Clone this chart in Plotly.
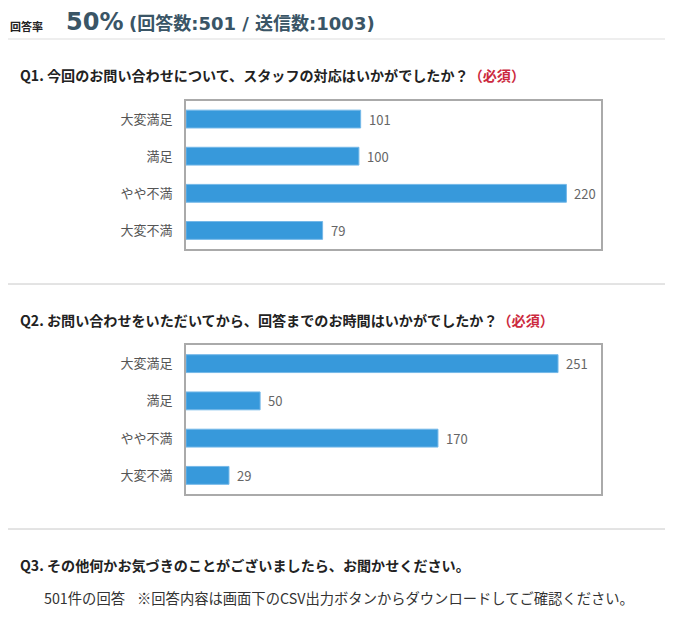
import plotly.graph_objects as go

# page body margin in the browser is 8px; figure is sized to fit the window
M = 8
W, H = 673 - M, 631 - M

categories = ["大変満足", "満足", "やや不満", "大変不満"]
q1_values = [101, 100, 220, 79]
q2_values = [251, 50, 170, 29]
q1_xmax = 240
q2_xmax = 280

header_label = "回答率"
rate_text = "50%"
count_text = "(回答数:501 / 送信数:1003)"
q1_title = "Q1. 今回のお問い合わせについて、スタッフの対応はいかがでしたか？"
q2_title = "Q2. お問い合わせをいただいてから、回答までのお時間はいかがでしたか？"
required_text = "（必須）"
q3_title = "Q3. その他何かお気づきのことがございましたら、お聞かせください。"
q3_count = "501件の回答"
q3_note = "※回答内容は画面下のCSV出力ボタンからダウンロードしてご確認ください。"

FONT = "Noto Sans CJK JP"
WIDE = "DejaVu Sans, Noto Sans CJK JP"
BAR = "#3799db"
BAR_EDGE = "#74b8e8"


def px(x):
    return (x - M) / W


def py(y):
    return 1 - (y - M) / H


fig = go.Figure()

for vals, ax in [(q1_values, ""), (q2_values, "2")]:
    fig.add_trace(go.Bar(
        x=vals, y=categories, orientation="h",
        marker=dict(color=BAR, line=dict(color=BAR_EDGE, width=1)),
        width=0.48, hoverinfo="skip",
        xaxis="x" + ax, yaxis="y" + ax, showlegend=False,
    ))

annotations = []
for vals, xa, ya in [(q1_values, "x", "y"), (q2_values, "x2", "y2")]:
    for c, v in zip(categories, vals):
        annotations.append(dict(
            x=v, y=c, xref=xa, yref=ya, text=str(v), showarrow=False,
            xanchor="left", yanchor="middle", xshift=6,
            font=dict(family=FONT, size=13, color="#666666"),
        ))

axis_common = dict(
    showline=True, mirror=True, linecolor="#aaaaaa", linewidth=2,
    showgrid=False, zeroline=False, fixedrange=True,
)
ytick = dict(family=FONT, size=13, color="#555555")

fig.update_layout(
    width=W, height=H,
    margin=dict(l=0, r=0, t=0, b=0),
    paper_bgcolor="white", plot_bgcolor="white",
    xaxis=dict(domain=[px(186), px(601)], range=[0, q1_xmax], anchor="y",
               showticklabels=False, **axis_common),
    yaxis=dict(domain=[py(249), py(100.5)], anchor="x",
               categoryorder="array", categoryarray=categories,
               range=[3.5, -0.5], ticklabelstandoff=9, tickfont=ytick,
               **axis_common),
    xaxis2=dict(domain=[px(186), px(601)], range=[0, q2_xmax], anchor="y2",
                showticklabels=False, **axis_common),
    yaxis2=dict(domain=[py(494), py(345)], anchor="x2",
                categoryorder="array", categoryarray=categories,
                range=[3.5, -0.5], ticklabelstandoff=9, tickfont=ytick,
                **axis_common),
)

HEAD = "#3a5566"
REQ = "<span style='color:#cc2a3e'>" + required_text + "</span>"
texts = [
    dict(x=px(8), y=py(26), text="<b>" + header_label + "</b>",
         font=dict(family=FONT, size=11, color="#222222")),
    dict(x=px(64), y=py(22), text="<b>" + rate_text + "</b>",
         font=dict(family=WIDE, size=24, color=HEAD)),
    dict(x=px(127), y=py(23.5), text="<b>" + count_text + "</b>",
         font=dict(family=WIDE, size=18, color=HEAD)),
    dict(x=px(18), y=py(75), text="<b>" + q1_title + REQ + "</b>",
         font=dict(family=FONT, size=14.1, color="#222222")),
    dict(x=px(18), y=py(320), text="<b>" + q2_title + REQ + "</b>",
         font=dict(family=FONT, size=14.1, color="#222222")),
    dict(x=px(18), y=py(565), text="<b>" + q3_title + "</b>",
         font=dict(family=FONT, size=14.1, color="#222222")),
    dict(x=px(42), y=py(597), text=q3_count,
         font=dict(family=FONT, size=14.3, color="#333333")),
    dict(x=px(135), y=py(597), text=q3_note,
         font=dict(family=FONT, size=14.3, color="#333333")),
]
for a in texts:
    a.update(xref="paper", yref="paper", xanchor="left", yanchor="middle", showarrow=False)
annotations += texts

fig.update_layout(annotations=annotations)

shapes = []
for yy, col in [(39, "#dddddd"), (284, "#c8c8c8"), (529, "#c8c8c8")]:
    shapes.append(dict(type="line", xref="paper", yref="paper",
                       x0=px(8), x1=1, y0=py(yy), y1=py(yy),
                       line=dict(color=col, width=1)))
fig.update_layout(shapes=shapes)

fig.write_html("out.html", config={"displayModeBar": False})
